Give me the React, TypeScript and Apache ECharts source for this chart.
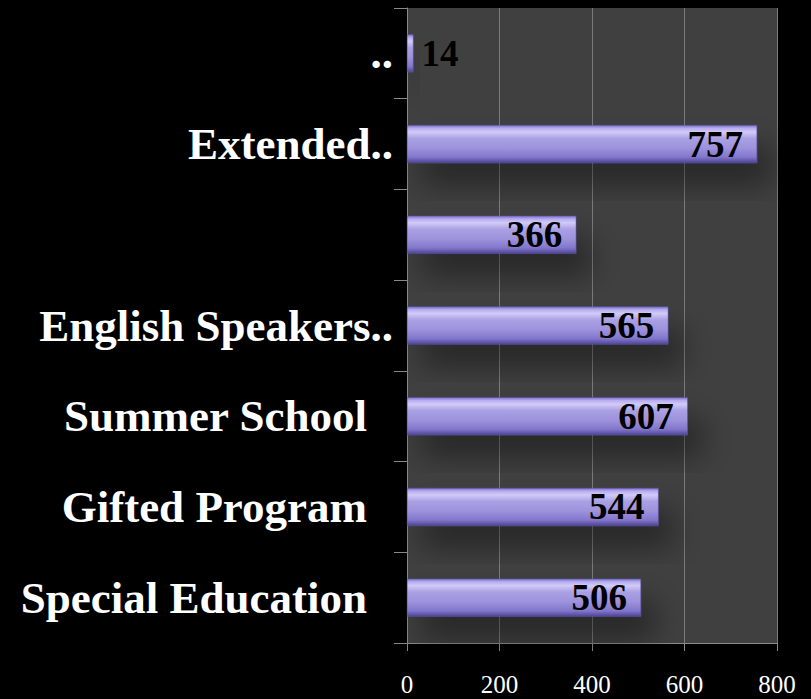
import React, { useEffect, useRef } from "react";
import * as echarts from "echarts";

const categories = ["..", "Extended..", "", "English Speakers..", "Summer School", "Gifted Program", "Special Education"];
const values = [14, 757, 366, 565, 607, 544, 506];
const xTicks = [0, 200, 400, 600, 800];

export default function App() {
  const ref = useRef<HTMLDivElement>(null);
  useEffect(() => {
    document.body.style.margin = "0";
    document.body.style.background = "#000";
    const chart = echarts.init(ref.current!, null, { renderer: "svg" });
    const serif = "'Liberation Serif', 'DejaVu Serif', serif";
    const barGradient = new echarts.graphic.LinearGradient(0, 0, 0, 1, [
      { offset: 0, color: "#7d70c8" },
      { offset: 0.08, color: "#b7adf0" },
      { offset: 0.18, color: "#d2cbf7" },
      { offset: 0.35, color: "#aaa0e4" },
      { offset: 0.6, color: "#9e93dc" },
      { offset: 0.85, color: "#8276cc" },
      { offset: 1, color: "#4e4494" },
    ]);
    chart.setOption({
      animation: false,
      backgroundColor: "#000",
      grid: {
        left: 407,
        right: 34,
        top: 8,
        bottom: 56,
        show: true,
        backgroundColor: "#404040",
        borderWidth: 0,
        containLabel: false,
      },
      xAxis: {
        type: "value",
        min: xTicks[0],
        max: xTicks[xTicks.length - 1],
        interval: 200,
        axisLine: { show: true, lineStyle: { color: "#8a8a8a", width: 1 } },
        axisTick: { show: true, length: 8, lineStyle: { color: "#8a8a8a" } },
        splitLine: { show: true, lineStyle: { color: "#7a7a7a", width: 1 } },
        axisLabel: {
          color: "#ffffff",
          fontFamily: serif,
          fontSize: 25,
          margin: 29,
          showMinLabel: true,
          showMaxLabel: true,
        },
      },
      yAxis: {
        type: "category",
        inverse: true,
        data: categories,
        axisLine: { show: true, lineStyle: { color: "#8a8a8a", width: 1 } },
        axisTick: { show: true, length: 13, lineStyle: { color: "#8a8a8a" } },
        splitLine: { show: false },
        axisLabel: {
          interval: 0,
          margin: 14,
          color: "#ffffff",
          fontFamily: serif,
          fontWeight: "bold",
          fontSize: 45,
          formatter: (name: string) =>
            name === "" || name.endsWith("..") ? name : `{p|${name}}`,
          rich: {
            p: {
              color: "#ffffff",
              fontFamily: serif,
              fontWeight: "bold",
              fontSize: 45,
              padding: [0, 26, 0, 0],
            },
          },
        },
      },
      series: [
        {
          type: "bar",
          barWidth: 38,
          data: values.map((v) => ({
            value: v,
            label:
              v < 100
                ? { position: "right", distance: 8 }
                : { position: "insideRight", distance: 14 },
          })),
          itemStyle: {
            color: barGradient,
            borderColor: "#5e54a6",
            borderWidth: 0.5,
            shadowBlur: 30,
            shadowOffsetX: 14,
            shadowOffsetY: 22,
            shadowColor: "rgba(0,0,0,0.4)",
          },
          label: {
            show: true,
            color: "#000000",
            fontFamily: serif,
            fontWeight: "bold",
            fontSize: 37,
          },
        },
      ],
    });
    return () => chart.dispose();
  }, []);
  return (
    <div
      ref={ref}
      style={{ position: "absolute", left: 0, top: 0, width: 811, height: 699, background: "#000" }}
    />
  );
}
